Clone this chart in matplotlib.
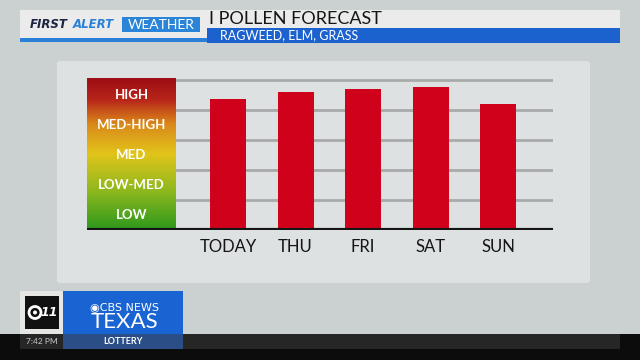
import matplotlib.pyplot as plt
import numpy as np
from matplotlib.patches import Rectangle, FancyBboxPatch, Circle
from matplotlib.colors import LinearSegmentedColormap

plt.rcParams['font.family'] = ['Lato', 'DejaVu Sans']

# data
days = ['TODAY', 'THU', 'FRI', 'SAT', 'SUN']
pollen = [4.37, 4.6, 4.7, 4.77, 4.23]
levels = ['LOW', 'LOW-MED', 'MED', 'MED-HIGH', 'HIGH']

title = 'I POLLEN FORECAST'
subtitle = 'RAGWEED, ELM, GRASS'

fig = plt.figure(figsize=(6.4, 3.6), dpi=100)
fig.patch.set_facecolor('#cbd0d0')

# background layer in pixel coords
bg = fig.add_axes([0, 0, 1, 1])
bg.set_xlim(0, 640)
bg.set_ylim(360, 0)
bg.axis('off')

bg.add_patch(FancyBboxPatch((57, 61), 533, 222, boxstyle='round,pad=0,rounding_size=3',
                            fc='#dde1e1', ec='none'))

# header
bg.add_patch(Rectangle((20, 10), 600, 18, fc='#ebebeb', ec='none'))
bg.add_patch(Rectangle((20, 10), 187, 28, fc='#ebebeb', ec='none'))
bg.add_patch(Rectangle((20, 38), 187, 4, fc='#2a7fd6', ec='none'))
bg.add_patch(Rectangle((207, 28), 413, 15, fc='#1c62cf', ec='none'))
bg.add_patch(Rectangle((122, 17), 78, 15, fc='#2a84d8', ec='none'))
bg.text(30, 25, 'FIRST', fontsize=8.5, fontweight='bold', style='italic',
        color='#1b2440', va='center', family=['DejaVu Sans'])
bg.text(73, 25, 'ALERT', fontsize=8.5, fontweight='bold', style='italic',
        color='#2a80d6', va='center', family=['DejaVu Sans'])
bg.text(161, 25, 'WEATHER', fontsize=10, color='white', ha='center', va='center')
bg.text(209, 19, title, fontsize=13, color='#151515', va='center')
bg.text(220, 35.5, subtitle, fontsize=9, color='white', va='center')

# footer
bg.add_patch(Rectangle((0, 334), 640, 26, fc='#0c0c0c', ec='none'))
bg.add_patch(Rectangle((20, 334), 600, 15, fc='#262626', ec='none'))
bg.add_patch(Rectangle((20, 291), 43, 43, fc='#e6e6e4', ec='none'))
bg.add_patch(Rectangle((25, 296), 34, 33, fc='#111111', ec='none'))
bg.add_patch(Circle((35, 312.5), 6, fc='none', ec='white', lw=2))
bg.add_patch(Circle((35, 312.5), 2, fc='white', ec='none'))
bg.text(49, 313, '11', fontsize=9, fontweight='bold', style='italic',
        color='white', ha='center', va='center', family=['DejaVu Sans'])
bg.add_patch(Rectangle((63, 291), 120, 43, fc='#1a63d2', ec='none'))
bg.text(124, 307, '◉CBS NEWS', fontsize=8, color='white', ha='center', va='center',
        family=['DejaVu Sans'])
bg.text(124, 322, 'TEXAS', fontsize=16, color='white', ha='center', va='center')
bg.add_patch(Rectangle((63, 334), 120, 15, fc='#2c4e86', ec='none'))
bg.text(123, 341.5, 'LOTTERY', fontsize=6.5, fontweight='bold', color='white',
        ha='center', va='center')
bg.text(42, 341.5, '7:42 PM', fontsize=6, color='#cccccc', ha='center', va='center')

# chart axes: pixel box x 87..553, y 78..230.5
unit = 67.5
x0 = 228
xl = (87 - x0) / unit
xr = (553 - x0) / unit
ytop = (230.5 - 78) / 30
ax = fig.add_axes([87 / 640, 1 - 230.5 / 360, (553 - 87) / 640, 152.5 / 360])
ax.set_xlim(xl, xr)
ax.set_ylim(0, ytop)
ax.axis('off')

gx = (176 - x0) / unit
cmap = LinearSegmentedColormap.from_list('pollen', [
    (0.0, '#2c981c'), (0.25, '#8cb81e'), (0.5, '#e2c41a'),
    (0.7, '#d9861a'), (0.85, '#b8261a'), (1.0, '#9c0c14')])
grad = np.linspace(0, 1, 256).reshape(-1, 1)
ax.imshow(grad, cmap=cmap, origin='lower', aspect='auto',
          extent=(xl, gx, 0, ytop), zorder=1)
for i, lv in enumerate(levels):
    ax.text((xl + gx) / 2, i + 0.5, lv, color='white', fontsize=9.5,
            fontweight='bold', ha='center', va='center', zorder=3)

gfrac = (gx - xl) / (xr - xl)
for i in range(1, len(levels) + 1):
    ax.axhline(i, xmin=gfrac, xmax=1, color='#a9abab', lw=2, zorder=0)

xs = np.arange(len(days))
ax.bar(xs, pollen, width=36 / unit, color='#d0021b', zorder=2)
ax.axhline(0, color='#151515', lw=3, zorder=4)
for x, d in zip(xs, days):
    ax.text(x, -0.55, d, fontsize=12, color='#151515', ha='center', va='center',
            clip_on=False)

fig.savefig('out.png', dpi=100)
